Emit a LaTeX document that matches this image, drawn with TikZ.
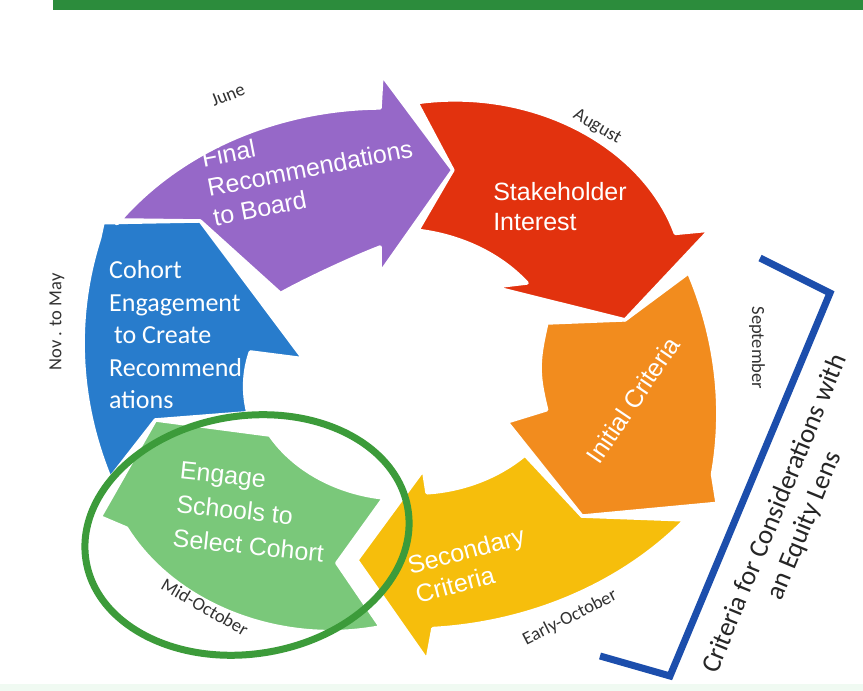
\documentclass[tikz,border=0pt]{standalone}
\usepackage{fontspec}
\setmainfont{Liberation Sans}
\newfontfamily\calibri{Carlito}
\definecolor{cP}{RGB}{150,104,200}
\definecolor{cR}{RGB}{226,50,14}
\definecolor{cO}{RGB}{242,140,30}
\definecolor{cY}{RGB}{246,190,12}
\definecolor{cG}{RGB}{122,200,122}
\definecolor{cB}{RGB}{40,124,204}
\definecolor{barG}{RGB}{44,140,60}
\definecolor{ringG}{RGB}{60,155,58}
\definecolor{brB}{RGB}{28,78,172}
\definecolor{monthC}{RGB}{50,50,50}
\definecolor{paleG}{RGB}{240,250,242}
\tikzset{
  arr/.style={draw=white, line width=3.5pt, line join=round},
  lbl/.style={text=white, font=\fontsize{25}{30}\selectfont, align=left, inner sep=0pt},
  cbl/.style={text=white, font=\calibri\fontsize{26}{32.5}\selectfont, align=left, inner sep=0pt},
  mon/.style={text=monthC, font=\calibri\fontsize{18.5}{20}\selectfont, inner sep=0pt},
  rarc/.style n args={5}{insert path={-- plot[domain=#1:#2,samples=40] (\x:{(#3)+((#4)-(#3))*((\x-(#1))/((#2)-(#1)))+4*(#5)*((\x-(#1))/((#2)-(#1)))*(1-(\x-(#1))/((#2)-(#1)))})}}
}
\begin{document}
\begin{tikzpicture}[x=1pt,y=1pt]
\useasboundingbox (0,0) rectangle (863,691);
\fill[white] (0,0) rectangle (863,691);
% top bar and bottom strip
\fill[barG] (53,681) rectangle (863,691);
\fill[paleG] (0,0) rectangle (863,7);

% cycle arrows
\begin{scope}[shift={(400,321)}, x=315pt, y=260pt]
% green
\path[arr, fill=cG] (-93.6:0.99) [rarc={-93.6}{-145}{0.99}{1.06}{0.05}] -- (-149.3:1.107) -- (-166.1:0.80) -- (-148.8:0.483) [rarc={-148.8}{-96}{0.483}{0.495}{0}] -- (-105.1:0.769) -- cycle;
% yellow
\path[arr, fill=cY] (-32.5:1.073) [rarc={-32.5}{-84}{1.073}{1.0}{-0.01}] -- (-85.6:1.12) -- (-100.6:0.744) -- (-79:0.39) [rarc={-79.7}{-39.5}{0.48}{0.514}{0}] -- (-44.2:0.806) -- cycle;
% orange
\path[arr, fill=cO] (22.3:0.994) [rarc={22.3}{-22}{0.99}{1.07}{-0.03}] -- (-27:1.13) -- (-44.2:0.806) -- (-30.5:0.394) [rarc={-18.2}{21.2}{0.49}{0.5}{-0.05}] -- (15.1:0.74) -- cycle;
% red
\path[arr, fill=cR] (87:1.03) [rarc={87}{31}{1.03}{1.02}{0.06}] -- (28.7:1.12) -- (15.1:0.74) -- (47.2:0.435) [rarc={39.7}{84}{0.524}{0.54}{0}] -- (77.7:0.787) -- cycle;
% blue
\path[arr, fill=cB] (204.3:1.01) [rarc={204.3}{152}{1.01}{1.08}{-0.04}] -- (149:1.10) -- (137.9:0.855) -- (172:0.31) [rarc={171.7}{198.8}{0.48}{0.51}{0}] -- (193.9:0.80) -- cycle;
% purple
\path[arr, fill=cP] (147.9:1.087) [rarc={147.9}{93.6}{1.06}{1.01}{0}] -- (92.9:1.136) -- (77.7:0.787) -- (99.6:0.378) [rarc={97.6}{142.2}{0.477}{0.48}{-0.03}] -- (137.9:0.855) -- cycle;
\end{scope}

% labels in arrows
\node[lbl, rotate=11] (nP) at (310,523) {Final\\Recommendations\\to Board};
\node[lbl] (nR) at (560,484) {Stakeholder\\Interest};
\node[lbl, rotate=56] (nO) at (633,291) {Initial Criteria};
\node[lbl, rotate=15] (nY) at (470,126) {Secondary\\Criteria};
\node[lbl, rotate=-6, font=\fontsize{25}{34}\selectfont] (nG) at (252,179) {Engage\\Schools to\\Select Cohort};
\node[cbl, anchor=west] (nB) at (109,356) {Cohort\\Engagement\\\hspace*{5pt}to Create\\Recommend\\ations};

% month labels
\node[mon, rotate=22] (mJune) at (228,596) {June};
\node[mon, rotate=-30] (mAug) at (597,564) {August};
\node[mon, rotate=-90] (mSep) at (757,343) {September};
\node[mon, rotate=27] (mEOct) at (570,73) {Early-October};
\node[mon, rotate=-30] (mMOct) at (205,84) {Mid-October};
\node[mon, rotate=90] (mNov) at (57,369) {Nov . to May};

% green highlight ellipse
\draw[ringG, line width=7pt, rotate around={9:(247,156)}] (247,156) ellipse [x radius=163, y radius=119];

% bracket
\coordinate (b1) at (760,433);
\coordinate (b2) at (830,398);
\coordinate (b3) at (670,15);
\coordinate (b4) at (600,35);
\draw[brB, line width=7pt, line join=miter] (b1) -- (b2) -- (b3) -- (b4);
\node[text=black!85, font=\calibri\fontsize{27}{32}\selectfont, align=center, inner sep=0pt, rotate=67.7] (crit) at (790,171) {Criteria for Considerations with\\an Equity Lens};
\end{tikzpicture}
\end{document}
